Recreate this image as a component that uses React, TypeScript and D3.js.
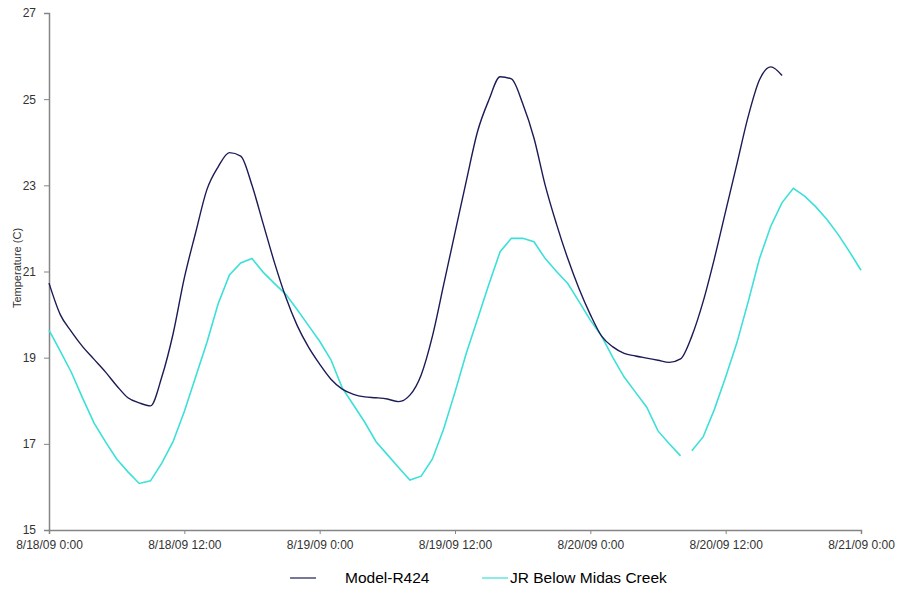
import React, { useEffect, useRef } from 'react';
import * as d3 from 'd3';

// hours since 8/18/09 0:00
const xTickHours = [0, 12, 24, 36, 48, 60, 72];
const xTickLabels = ['8/18/09 0:00', '8/18/09 12:00', '8/19/09 0:00', '8/19/09 12:00', '8/20/09 0:00', '8/20/09 12:00', '8/21/09 0:00'];
const yTicks = [15, 17, 19, 21, 23, 25, 27];

// Model-R424, hourly from hour 0
const modelTemps = [
  20.73, 20.0, 19.6, 19.25, 18.96, 18.67, 18.35, 18.07, 17.95, 17.88,
  18.55, 19.55, 20.85, 21.9, 22.9, 23.43, 23.76, 23.68, 23.0, 22.1,
  21.2, 20.4, 19.75, 19.25, 18.85, 18.5, 18.27, 18.15, 18.09, 18.07,
  18.04, 17.98, 18.13, 18.6, 19.5, 20.7, 21.9, 23.1, 24.25, 24.98,
  25.52, 25.47, 24.9, 24.1, 23.0, 22.1, 21.3, 20.6, 20.0, 19.5,
  19.25, 19.1, 19.04, 18.99, 18.94, 18.89, 18.97, 19.5, 20.3, 21.3,
  22.4, 23.5, 24.6, 25.45, 25.75, 25.55,
];

// JR Below Midas Creek, hourly; hours 0-56 then a gap, hours 57-72
const jrTempsA = [
  19.64, 19.15, 18.65, 18.05, 17.48, 17.05, 16.65, 16.35, 16.08, 16.14,
  16.55, 17.05, 17.75, 18.55, 19.35, 20.25, 20.92, 21.2, 21.3, 20.98,
  20.72, 20.47, 20.12, 19.75, 19.38, 18.95, 18.3, 17.9, 17.5, 17.05,
  16.75, 16.45, 16.16, 16.25, 16.65, 17.35, 18.2, 19.1, 19.9, 20.7,
  21.46, 21.77, 21.77, 21.69, 21.3, 21.0, 20.72, 20.3, 19.87, 19.5,
  19.0, 18.55, 18.2, 17.85, 17.3, 17.0, 16.72,
];
const jrTempsB = [
  16.84, 17.16, 17.8, 18.55, 19.35, 20.3, 21.3, 22.05, 22.6, 22.93,
  22.75, 22.5, 22.2, 21.85, 21.45, 21.03,
];
const jrStartB = 57;

const App = () => {
  const svgRef = useRef<SVGSVGElement>(null);

  useEffect(() => {
    const svg = d3.select(svgRef.current);
    svg.selectAll('*').remove();

    const x = d3.scaleLinear().domain([0, 72]).range([49, 861]);
    const y = d3.scaleLinear().domain([15, 27]).range([530, 13]);
    const font = '"Liberation Sans", Arial, sans-serif';
    const axisColor = '#858585';

    // y axis
    const yAxis = svg.append('g')
      .attr('transform', 'translate(49,0)')
      .call(d3.axisLeft(y).tickValues(yTicks).tickSize(5).tickPadding(8).tickFormat(d3.format('d')));
    yAxis.select('.domain').attr('stroke', axisColor).attr('stroke-width', 1.5);
    yAxis.selectAll('.tick line').attr('stroke', axisColor);
    yAxis.selectAll('.tick text')
      .attr('fill', '#333')
      .style('font-family', font)
      .style('font-size', '12px');

    // x axis
    const xAxis = svg.append('g')
      .attr('transform', 'translate(0,530)')
      .call(d3.axisBottom(x).tickValues(xTickHours).tickSize(4).tickPadding(6)
        .tickFormat((d, i) => xTickLabels[i]));
    xAxis.select('.domain').attr('stroke', axisColor).attr('stroke-width', 1.5);
    xAxis.selectAll('.tick line').attr('stroke', axisColor);
    xAxis.selectAll('.tick text')
      .attr('fill', '#333')
      .style('font-family', font)
      .style('font-size', '12px');

    svg.append('text')
      .attr('transform', 'translate(21,268) rotate(-90)')
      .attr('text-anchor', 'middle')
      .attr('fill', '#333')
      .style('font-family', font)
      .style('font-size', '11px')
      .text('Temperature (C)');

    const line = d3.line<[number, number]>()
      .x(d => x(d[0]))
      .y(d => y(d[1]));

    const jrColor = '#3ce0d8';
    const modelColor = '#1b1b55';

    const jrA = jrTempsA.map((v, i) => [i, v] as [number, number]);
    const jrB = jrTempsB.map((v, i) => [jrStartB + i, v] as [number, number]);
    [jrA, jrB].forEach(seg => {
      svg.append('path')
        .attr('d', line(seg))
        .attr('fill', 'none')
        .attr('stroke', jrColor)
        .attr('stroke-width', 1.6);
    });

    svg.append('path')
      .attr('d', line.curve(d3.curveMonotoneX)(modelTemps.map((v, i) => [i, v] as [number, number])))
      .attr('fill', 'none')
      .attr('stroke', modelColor)
      .attr('stroke-width', 1.4)
      .attr('stroke-linejoin', 'round');

    // legend
    const legend = svg.append('g').style('font-family', font).style('font-size', '15.5px');
    legend.append('line').attr('x1', 290).attr('x2', 316).attr('y1', 578).attr('y2', 578)
      .attr('stroke', modelColor).attr('stroke-width', 1.2);
    legend.append('text').attr('x', 345).attr('y', 583).attr('fill', '#000').text('Model-R424');
    legend.append('line').attr('x1', 482).attr('x2', 508).attr('y1', 578).attr('y2', 578)
      .attr('stroke', jrColor).attr('stroke-width', 1.2);
    legend.append('text').attr('x', 510).attr('y', 583).attr('fill', '#000').text('JR Below Midas Creek');
  }, []);

  return (
    <svg ref={svgRef} width={898} height={590}
      style={{ position: 'absolute', left: 0, top: 0, background: '#fff' }} />
  );
};

export default App;
